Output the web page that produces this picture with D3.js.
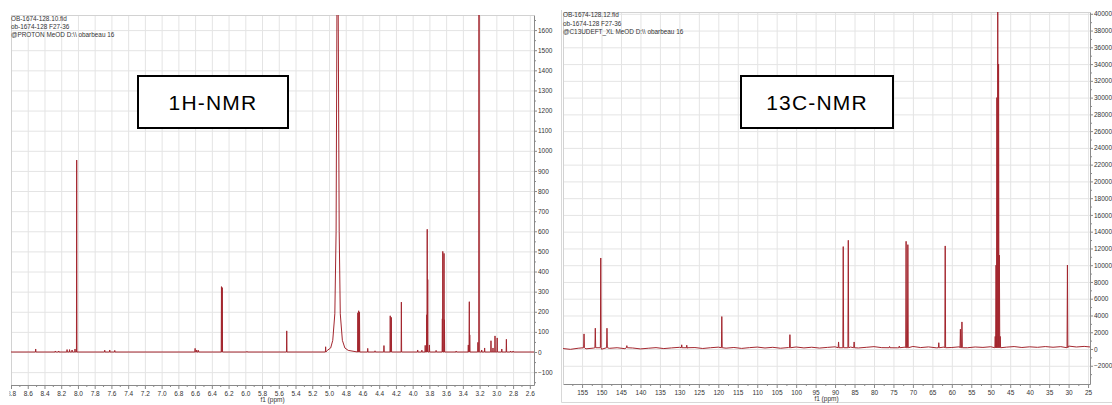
<!DOCTYPE html>
<html>
<head>
<meta charset="utf-8">
<script src="https://cdn.jsdelivr.net/npm/d3@7"></script>
<style>
  body { margin: 0; background: #fff; }
  svg { display: block; }
  text { font-family: "Liberation Sans", Arial, sans-serif; }
</style>
</head>
<body>
<svg id="chart" width="1112" height="405"></svg>
<script>
"use strict";

// ---- data ----
const h1Header = ["OB-1674-128.10.fid", "ob-1674-128 F27-36", "@PROTON MeOD D:\\\\ obarbeau 16"];
const c13Header = ["OB-1674-128.12.fid", "ob-1674-128 F27-36", "@C13UDEFT_XL MeOD D:\\\\ obarbeau 16"];

const h1XTicks = [8.8, 8.6, 8.4, 8.2, 8.0, 7.8, 7.6, 7.4, 7.2, 7.0, 6.8, 6.6, 6.4, 6.2, 6.0, 5.8,
                  5.6, 5.4, 5.2, 5.0, 4.8, 4.6, 4.4, 4.2, 4.0, 3.8, 3.6, 3.4, 3.2, 3.0, 2.8, 2.6];
const h1YTicks = [-100, 0, 100, 200, 300, 400, 500, 600, 700, 800, 900, 1000, 1100, 1200, 1300, 1400, 1500, 1600];

const c13XTicks = [155, 150, 145, 140, 135, 130, 125, 120, 115, 110, 105, 100, 95, 90, 85, 80,
                   75, 70, 65, 60, 55, 50, 45, 40, 35, 30, 25];
const c13YTicks = [-2000, 0, 2000, 4000, 6000, 8000, 10000, 12000, 14000, 16000, 18000, 20000,
                   22000, 24000, 26000, 28000, 30000, 32000, 34000, 36000, 38000, 40000];

// 1H lines [ppm, intensity]
const h1Peaks = [
  [8.505, 15], [8.27, 5], [8.23, 5], [8.13, 12], [8.10, 12], [8.07, 10], [8.035, 15], [8.015, 954],
  [7.68, 9], [7.62, 10], [7.56, 8],
  [6.60, 18], [6.58, 10], [6.56, 8], [6.285, 325], [6.275, 320], [5.98, 3],
  [5.505, 105], [5.04, 26],
  [4.655, 195], [4.645, 205], [4.635, 198], [4.537, 18], [4.45, 6], [4.343, 32],
  [4.268, 180], [4.255, 172], [4.135, 248],
  [3.94, 10], [3.89, 9], [3.85, 33], [3.832, 185], [3.826, 610], [3.820, 360], [3.80, 35], [3.72, 8],
  [3.645, 165], [3.64, 500], [3.625, 490], [3.62, 160], [3.48, 5],
  [3.335, 35], [3.323, 250], [3.318, 85], [3.22, 48], [3.207, 3000], [3.175, 10], [3.14, 20],
  [3.064, 56], [3.04, 20], [3.016, 80], [2.99, 70], [2.935, 15], [2.88, 63], [2.83, 5], [2.80, 5]
];
// broad HOD signal [ppm, intensity]
const h1Hod = [
  [5.02, 8], [4.98, 20], [4.955, 58], [4.93, 190], [4.915, 600], [4.905, 1700], [4.898, 4000],
  [4.89, 1700], [4.878, 600], [4.865, 190], [4.84, 58], [4.81, 20], [4.77, 8]
];

// 13C lines [ppm, intensity]
const c13Peaks = [
  [154.5, 1800], [151.6, 2480], [150.2, 10860], [148.6, 2480], [143.5, 400],
  [129.4, 500], [128.1, 450], [119.1, 3870], [101.6, 1710],
  [89.1, 840], [87.9, 12220], [86.6, 12970], [85.1, 840],
  [76.0, 300], [73.5, 350], [71.75, 12850], [71.3, 12450],
  [63.35, 750], [61.7, 12300], [57.8, 2360], [57.4, 3230],
  [48.85, 1500], [48.64, 10000], [48.43, 30000], [48.2, 45000], [47.99, 34000], [47.78, 11200], [47.57, 1500],
  [30.3, 10020]
];
// 13C baseline noise [ppm, intensity]
const c13Baseline = [
  [160, 60], [158, -40], [156, 90], [154, 20], [152, 110], [150, -30], [148, 80], [146, 150],
  [144, 40], [142, 120], [140, 10], [138, 90], [136, 160], [134, 50], [132, 130], [130, 200],
  [128, 90], [126, 170], [124, 60], [122, 150], [120, 220], [118, 100], [116, 180], [114, 70],
  [112, 160], [110, 230], [108, 120], [106, 200], [104, 90], [102, 170], [100, 240], [98, 130],
  [96, 210], [94, 110], [92, 190], [90, 260], [88, 150], [86, 230], [84, 120], [82, 200],
  [80, 280], [78, 160], [76, 240], [74, 140], [72, 220], [70, 300], [68, 170], [66, 250],
  [64, 140], [62, 230], [60, 180], [58, 260], [56, 150], [54, 240], [52, 190], [50, 270],
  [48, 300], [46, 220], [44, 290], [42, 180], [40, 260], [38, 200], [36, 290], [34, 210],
  [32, 280], [30, 350], [28, 240], [26, 310], [24, 220]
];

// ---- helpers ----
function lineTrace(base, peaks, halfWidth, foot) {
  const pts = base.slice();
  peaks.forEach(p => {
    pts.push([p[0] + halfWidth, foot], [p[0], p[1]], [p[0] - halfWidth, foot]);
  });
  return pts.sort((a, b) => b[0] - a[0]);
}

const svg = d3.select("#chart");
const gridColor = "#e4e4e4";
const axisColor = "#8a8a8a";
const traceColor = "#a3262e";

function drawPanel(p) {
  const x = d3.scaleLinear().domain(p.xDomain).range([p.left, p.right]);
  const y = d3.scaleLinear().domain(p.yDomain).range([p.bottom, p.top]);
  const g = svg.append("g");

  // grid
  const gridX = g.append("g")
    .attr("transform", "translate(0," + p.top + ")")
    .call(d3.axisBottom(x).tickValues(p.xTicks).tickFormat("").tickSize(p.bottom - p.top));
  const gridY = g.append("g")
    .attr("transform", "translate(" + p.left + ",0)")
    .call(d3.axisRight(y).tickValues(p.yTicks).tickFormat("").tickSize(p.right - p.left));
  [gridX, gridY].forEach(a => {
    a.select(".domain").remove();
    a.selectAll("line").attr("stroke", gridColor);
  });

  // frame (left + top)
  g.append("path")
    .attr("d", "M" + (p.left + 0.5) + "," + p.bottom + "V" + (p.top + 0.5) + "H" + p.right)
    .attr("fill", "none")
    .attr("stroke", "#d2d2d2");

  // spectrum
  g.append("clipPath").attr("id", p.id + "-clip")
    .append("rect")
    .attr("x", p.left).attr("y", p.top)
    .attr("width", p.right - p.left).attr("height", p.bottom - p.top);
  g.append("path")
    .datum(p.trace)
    .attr("clip-path", "url(#" + p.id + "-clip)")
    .attr("fill", "none")
    .attr("stroke", traceColor)
    .attr("stroke-width", 1)
    .attr("stroke-linejoin", "round")
    .attr("d", d3.line().x(d => x(d[0])).y(d => y(d[1])));

  // x axis (clip is in the axis group's own coordinates)
  g.append("clipPath").attr("id", p.id + "-xclip")
    .append("rect")
    .attr("x", p.left - 1.5).attr("y", -2)
    .attr("width", p.right - p.left + 20).attr("height", 30);
  const xAxis = g.append("g")
    .attr("clip-path", "url(#" + p.id + "-xclip)")
    .attr("transform", "translate(0," + p.bottom + ")");
  xAxis.append("g")
    .call(d3.axisBottom(x).tickValues(p.xMinor).tickFormat("").tickSize(2))
    .call(a => a.select(".domain").remove());
  xAxis.append("g")
    .call(d3.axisBottom(x).tickValues(p.xTicks).tickFormat(p.xFormat).tickSize(4).tickPadding(2).tickSizeOuter(0));
  xAxis.selectAll("line, path").attr("stroke", axisColor);
  xAxis.selectAll("text")
    .attr("fill", "#333")
    .attr("font-size", 6.5)
    .attr("font-family", "Liberation Sans, Arial, sans-serif");

  g.append("text")
    .attr("x", (p.left + p.right) / 2)
    .attr("y", p.bottom + 17)
    .attr("text-anchor", "middle")
    .attr("font-size", 6.5)
    .attr("fill", "#333")
    .text("f1 (ppm)");

  // y axis
  const yAxis = g.append("g").attr("transform", "translate(" + p.right + ",0)");
  yAxis.append("g")
    .call(d3.axisRight(y).tickValues(p.yMinor).tickFormat("").tickSize(2))
    .call(a => a.select(".domain").remove());
  yAxis.append("g")
    .call(d3.axisRight(y).tickValues(p.yTicks).tickFormat(d3.format("d")).tickSize(3).tickPadding(1).tickSizeOuter(0));
  yAxis.selectAll("line, path").attr("stroke", axisColor);
  yAxis.selectAll("text")
    .attr("fill", "#333")
    .attr("font-size", 6.5)
    .attr("font-family", "Liberation Sans, Arial, sans-serif");

  // header
  g.append("g").selectAll("text")
    .data(p.header)
    .join("text")
    .attr("x", p.left)
    .attr("y", (d, i) => p.headerY + i * 8.4)
    .attr("font-size", 6.4)
    .attr("fill", "#333")
    .text(d => d);

  // title box
  g.append("rect")
    .attr("x", p.box[0]).attr("y", p.box[1])
    .attr("width", p.box[2]).attr("height", p.box[3])
    .attr("fill", "#fff")
    .attr("stroke", "#000")
    .attr("stroke-width", 2);
  g.append("text")
    .attr("x", p.box[0] + p.box[2] / 2)
    .attr("y", p.box[1] + p.box[3] / 2 + 7.5)
    .attr("text-anchor", "middle")
    .attr("font-family", "Open Sans, sans-serif")
    .attr("font-size", 21)
    .attr("letter-spacing", 1.2)
    .attr("fill", "#000")
    .text(p.title);
}

drawPanel({
  id: "h1",
  left: 11, right: 534, top: 15, bottom: 385,
  xDomain: [8.8, 2.55], yDomain: [-164, 1675],
  xTicks: h1XTicks, xMinor: d3.range(8.7, 2.5, -0.2),
  yTicks: h1YTicks, yMinor: d3.range(-150, 1700, 100),
  xFormat: d3.format(".1f"),
  trace: lineTrace([[8.8, 0], [2.55, 0]].concat(h1Hod), h1Peaks, 0.003, 0),
  header: h1Header, headerY: 20.5,
  title: "1H-NMR", box: [138, 76, 150, 52]
});

// right panel outer frame
svg.append("path")
  .attr("d", "M561.5,10V402.5H1112")
  .attr("fill", "none")
  .attr("stroke", "#d8d8d8");

drawPanel({
  id: "c13",
  left: 563, right: 1090, top: 12, bottom: 384,
  xDomain: [159.9, 24.5], yDomain: [-4177, 40215],
  xTicks: c13XTicks, xMinor: d3.range(157.5, 24, -5),
  yTicks: c13YTicks, yMinor: d3.range(-3000, 40500, 2000),
  xFormat: d3.format("d"),
  trace: lineTrace(c13Baseline, c13Peaks, 0.1, 150),
  header: c13Header, headerY: 17.3,
  title: "13C-NMR", box: [741, 76, 152, 52]
});
</script>
</body>
</html>
